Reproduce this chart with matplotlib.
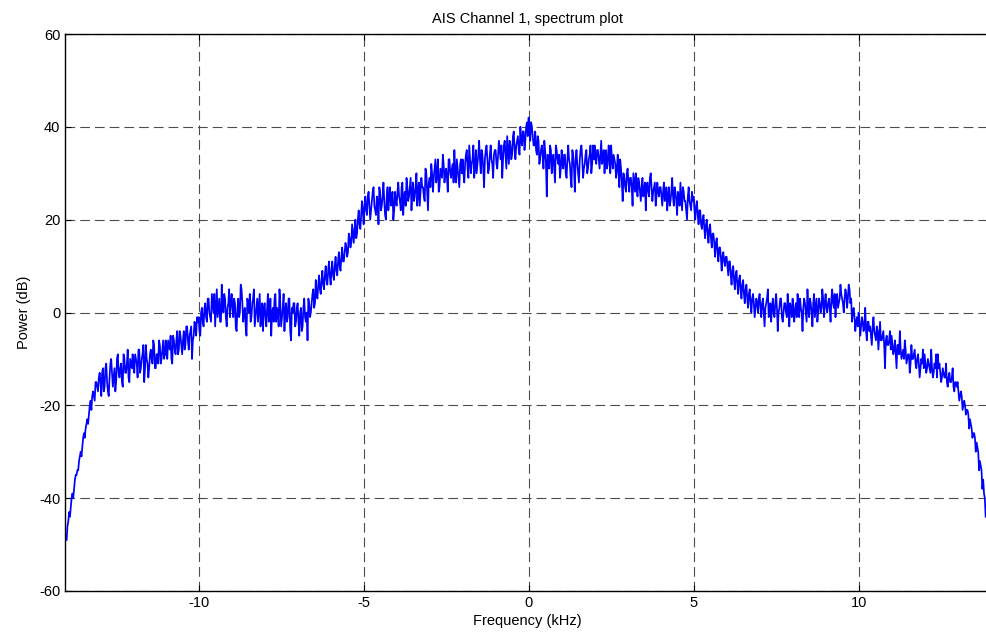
import matplotlib
matplotlib.use("Agg")
import matplotlib.pyplot as plt
import numpy as np

# Spectrum samples, one row per kHz.
# power_rows: bins at -14.0, -13.95, ... ; power_mid_rows: bins halfway between.
freq_start = -14.0
freq_step = 0.05

power_rows = [
    # -14.0 .. -13.05
    [-49, -45, -44, -40, -40, -36, -35, -34, -31, -31, -27, -27, -24, -24, -20, -21, -17, -19, -15, -17],
    # -13.0 .. -12.05
    [-13, -18, -12, -16, -11, -17, -14, -10, -16, -12, -15, -9, -14, -11, -16, -10, -13, -8, -15, -11],
    # -12.0 .. -11.05
    [-9, -13, -10, -14, -8, -12, -9, -15, -7, -11, -12, -8, -11, -7, -12, -9, -6, -11, -8, -10],
    # -11.0 .. -10.05
    [-6, -10, -7, -5, -11, -6, -9, -4, -8, -5, -9, -4, -7, -3, -8, -4, -10, -5, -3, -1],
    # -10.0 .. -9.05
    [-1, -5, 1, -3, 2, -2, 3, -1, 4, 0, -3, 5, 1, -2, 6, 0, 3, -3, 2, -1],
    # -9.0 .. -8.05
    [4, -1, 2, -4, 3, 0, 5, -2, 1, -5, 2, 4, -1, 3, -3, 1, -2, 4, 0, -4],
    # -8.0 .. -7.05
    [2, -3, 4, -1, -5, 1, 3, -2, 0, 5, -3, 1, -4, 2, -1, 3, -6, 0, 2, -2],
    # -7.0 .. -6.05
    [2, -5, 1, -3, 3, -2, -6, 2, 0, 4, 1, 7, 3, 8, 4, 9, 5, 10, 6, 11],
    # -6.0 .. -5.05
    [6, 11, 7, 12, 8, 13, 9, 14, 11, 15, 12, 17, 14, 19, 15, 20, 17, 22, 18, 24],
    # -5.0 .. -4.05
    [19, 25, 21, 26, 20, 24, 27, 22, 25, 19, 26, 23, 28, 21, 25, 22, 27, 24, 20, 26],
    # -4.0 .. -3.05
    [23, 28, 24, 27, 21, 26, 29, 24, 27, 22, 28, 25, 30, 26, 23, 29, 27, 24, 30, 22],
    # -3.0 .. -2.05
    [29, 32, 26, 31, 28, 33, 27, 30, 34, 28, 31, 26, 33, 29, 32, 35, 28, 31, 27, 33],
    # -2.0 .. -1.05
    [33, 28, 34, 31, 36, 30, 33, 29, 35, 32, 37, 30, 34, 27, 35, 33, 31, 36, 32, 34],
    # -1.0 .. -0.05
    [35, 31, 37, 33, 29, 36, 34, 38, 32, 36, 34, 39, 33, 37, 35, 40, 36, 39, 37, 41],
    # 0.0 .. 0.95
    [42, 37, 40, 36, 39, 34, 37, 33, 36, 31, 35, 25, 33, 36, 30, 34, 28, 35, 32, 29],
    # 1.0 .. 1.95
    [35, 31, 34, 29, 36, 32, 27, 34, 26, 35, 30, 33, 36, 29, 32, 35, 31, 34, 30, 36],
    # 2.0 .. 2.95
    [36, 32, 35, 31, 37, 33, 30, 35, 32, 34, 36, 31, 33, 29, 34, 27, 31, 24, 29, 26],
    # 3.0 .. 3.95
    [31, 26, 29, 23, 28, 30, 25, 28, 24, 29, 26, 22, 28, 25, 30, 24, 27, 23, 28, 25],
    # 4.0 .. 4.95
    [27, 23, 28, 25, 22, 27, 24, 29, 23, 26, 21, 25, 28, 22, 26, 24, 20, 27, 23, 26],
    # 5.0 .. 5.95
    [25, 20, 24, 19, 22, 18, 21, 16, 20, 15, 19, 14, 17, 12, 16, 11, 14, 9, 13, 10],
    # 6.0 .. 6.95
    [12, 8, 11, 6, 10, 5, 9, 4, 8, 3, 7, 2, 6, 1, 5, 0, 4, -1, 3, 0],
    # 7.0 .. 7.95
    [4, -1, 3, -3, 2, 5, 0, -2, 3, -1, 4, -4, 1, 3, -2, 2, 0, 4, -3, 1],
    # 8.0 .. 8.95
    [3, -2, 2, 4, -1, 1, -4, 3, 0, 5, -1, 2, -3, 4, 1, -2, 3, 0, 5, -1],
    # 9.0 .. 9.95
    [4, 0, 3, -2, 5, 1, -1, 4, 2, 6, 3, 0, 5, 1, 6, 2, -2, 1, -4, -1],
    # 10.0 .. 10.95
    [0, -5, -1, -4, 1, -6, -2, -3, -7, -1, -5, -3, -8, -2, -6, -4, -12, -5, -7, -4],
    # 11.0 .. 11.95
    [-5, -9, -6, -12, -7, -4, -10, -8, -6, -11, -9, -13, -7, -10, -8, -12, -9, -14, -10, -8],
    # 12.0 .. 12.95
    [-9, -13, -10, -12, -8, -14, -11, -9, -9, -11, -15, -12, -14, -11, -16, -13, -15, -12, -17, -15],
    # 13.0 .. 13.85
    [-15, -19, -17, -21, -19, -22, -21, -25, -24, -27, -26, -30, -29, -34, -33, -38, -39, -44],
]

power_mid_rows = [
    [-46, -43, -42, -39, -38, -35, -34, -32, -30, -29, -26, -25, -23, -22, -19, -18, -18, -15, -16, -14],
    [-15, -13, -17, -12, -15, -18, -11, -13, -14, -17, -10, -13, -12, -15, -9, -13, -11, -14, -10, -12],
    [-12, -9, -11, -8, -13, -10, -7, -12, -10, -14, -9, -10, -6, -12, -9, -11, -7, -10, -6, -9],
    [-9, -6, -8, -10, -5, -8, -6, -9, -4, -7, -6, -8, -3, -6, -5, -3, -6, -2, -5, -2],
    [-4, 0, -2, 1, -1, 3, 0, -2, 2, 4, 1, -1, 3, -2, 2, 4, -1, 1, 5, 2],
    [1, 3, -3, 1, -1, 6, 2, 0, -3, 3, 0, -2, 2, 5, -1, 3, 1, -3, 2, 1],
    [-1, 1, -2, 3, 0, -2, 4, 1, -3, 2, -1, 4, 0, -2, 3, -4, 1, 2, -3, 1],
    [-2, 0, -4, 1, -1, 0, 3, -1, 2, 5, 2, 4, 6, 5, 7, 6, 8, 7, 9, 8],
    [9, 8, 10, 9, 11, 10, 12, 11, 13, 14, 13, 16, 15, 17, 18, 16, 20, 19, 21, 22],
    [23, 22, 25, 23, 22, 26, 23, 21, 24, 27, 22, 25, 24, 20, 27, 25, 23, 26, 22, 24],
    [26, 25, 22, 28, 25, 23, 27, 25, 29, 26, 24, 27, 23, 28, 26, 27, 25, 31, 26, 28],
    [27, 30, 29, 33, 30, 26, 31, 29, 32, 30, 29, 33, 30, 31, 28, 30, 33, 29, 32, 30],
    [30, 32, 35, 29, 33, 32, 36, 31, 30, 34, 33, 35, 31, 33, 36, 30, 34, 33, 29, 35],
    [32, 34, 35, 36, 33, 37, 31, 35, 37, 33, 38, 35, 36, 38, 34, 37, 39, 35, 40, 38],
    [39, 41, 38, 36, 35, 38, 32, 35, 34, 37, 32, 34, 31, 35, 33, 31, 36, 33, 34, 31],
    [32, 34, 30, 33, 33, 29, 35, 31, 33, 32, 28, 35, 33, 31, 34, 30, 33, 36, 32, 33],
    [33, 35, 33, 34, 32, 35, 33, 31, 36, 30, 33, 34, 32, 31, 30, 33, 28, 30, 27, 30],
    [28, 29, 27, 30, 26, 27, 29, 26, 27, 25, 28, 27, 26, 29, 27, 26, 28, 25, 26, 27],
    [25, 26, 24, 27, 25, 23, 26, 25, 27, 24, 26, 23, 25, 27, 24, 22, 25, 24, 22, 24],
    [22, 23, 21, 22, 19, 20, 18, 19, 17, 18, 16, 17, 15, 15, 13, 14, 12, 12, 11, 12],
    [10, 11, 8, 9, 7, 8, 6, 7, 5, 6, 4, 5, 3, 4, 2, 3, 2, 1, 2, 3],
    [1, 2, 0, 1, 3, -1, 2, 1, 0, 2, 1, 0, 3, -1, 0, 2, -1, 1, 2, -1],
    [0, 1, -1, 2, 3, 0, 1, 2, -2, 1, 3, 0, 2, -1, 3, 0, 2, 1, 3, 2],
    [1, 2, 1, 3, 2, 4, 3, 1, 3, 4, 2, 3, 4, 3, 5, 3, 0, -1, -2, -3],
    [-2, -3, -2, -3, -4, -2, -4, -5, -3, -4, -6, -4, -5, -6, -5, -7, -6, -7, -6, -8],
    [-7, -8, -9, -7, -9, -8, -9, -10, -8, -10, -9, -11, -10, -9, -11, -10, -11, -12, -11, -12],
    [-11, -12, -11, -13, -12, -13, -12, -14, -12, -13, -14, -13, -14, -15, -14, -15, -14, -16, -15, -16],
    [-17, -18, -18, -20, -20, -21, -22, -23, -25, -26, -27, -28, -30, -32, -34, -36, -40],
]

x_ticks = [-10, -5, 0, 5, 10]
y_ticks = [-60, -40, -20, 0, 20, 40, 60]

p_main = np.concatenate([np.array(r, dtype=float) for r in power_rows])
p_mid = np.concatenate([np.array(r, dtype=float) for r in power_mid_rows])
f_main = freq_start + freq_step * np.arange(len(p_main))
f_mid = freq_start + freq_step / 2 + freq_step * np.arange(len(p_mid))

freq = np.concatenate([f_main, f_mid])
power = np.concatenate([p_main, p_mid])
order = np.argsort(freq)
freq, power = freq[order], power[order]

plt.rcParams['font.family'] = ['Liberation Sans', 'DejaVu Sans']
plt.rcParams['lines.scale_dashes'] = False
plt.rcParams['axes.unicode_minus'] = False

fig = plt.figure(figsize=(9.86, 6.41), dpi=100)
ax = fig.add_axes([65 / 986, 50 / 641, 925.6 / 986, 557 / 641])

ax.plot(freq, power, color='#0000ff', linewidth=1.25)

ax.set_xlim(-14.05, 14.0)
ax.set_ylim(-60, 60)
ax.set_xticks(x_ticks)
ax.set_yticks(y_ticks)
ax.tick_params(direction='in', top=True, right=False, length=4, labelsize=10.5)

ax.grid(True, color='0.3', linestyle=(0, (7, 3.6)), linewidth=0.8)
for s in ax.spines.values():
    s.set_linewidth(1.0)
ax.spines['right'].set_visible(False)

ax.set_title('AIS Channel 1, spectrum plot', fontsize=10.5, pad=8)
ax.set_xlabel('Frequency (kHz)', fontsize=10.5, labelpad=3)
ax.set_ylabel('Power (dB)', fontsize=10.5, labelpad=6)

fig.savefig('out.png', dpi=100)
